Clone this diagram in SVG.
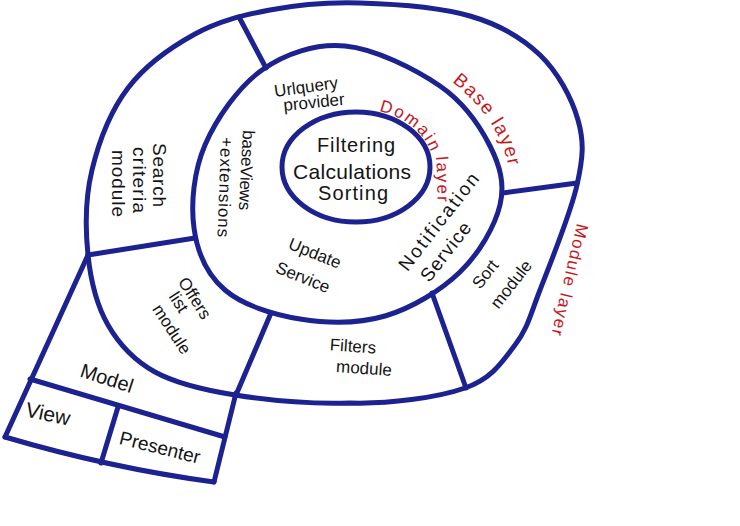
<svg xmlns="http://www.w3.org/2000/svg" width="740" height="526" viewBox="0 0 740 526">
<style>
.ln{fill:none;stroke:#1c2290;stroke-width:5;stroke-linecap:round;stroke-linejoin:round}
text{font-family:"Liberation Sans","DejaVu Sans",sans-serif;fill:#141414}
.r{fill:#c8161d}
</style>
<defs>
<path id="pDomain" d="M379,111 C398,115 416,126 426,142 C429,147 431,151 432,155"/>
<path id="pLayer" d="M436,157 C437,172 438,190 437,215"/>
<path id="pBase" d="M452,82 C472,97 490,118 500,140 C506,153 509,165 511,185"/>
</defs>
<rect width="740" height="526" fill="#ffffff"/>

<g id="rings">
<path class="ln" d="M360,3 C393.3,4 440,7.3 470,16 C500,24.7 522,37.7 540,55 C558,72.3 571.8,98.3 578,120 C584.2,141.7 583.3,156.7 577,185 C570.7,213.3 550.3,263.3 540,290 C529.7,316.7 527.5,328.7 515,345 C502.5,361.3 492.5,378.3 465,388 C437.5,397.7 388.3,404.2 350,403 C311.7,404.2 267.5,400.2 235,395 C202.5,389.8 176.2,383.7 155,372 C133.8,360.3 119.2,344.5 108,325 C96.8,305.5 90.7,280.8 88,255 C85.3,229.2 85.3,197.8 92,170 C98.7,142.2 110.8,110.7 128,88 C145.2,65.3 171.3,47 195,34 C218.7,21 242.5,15.2 270,10 C297.5,4.8 326.7,2 360,3 Z"/>
<path class="ln" d="M345,46 C374.7,48.7 415.8,69.3 440,86 C464.2,102.7 480,126.2 490,146 C500,165.8 505,184 500,205 C495,226 479.2,253.5 460,272 C440.8,290.5 411.7,308.2 385,316 C358.3,323.8 326.7,323.3 300,319 C273.3,314.7 242.7,305.2 225,290 C207.3,275 197.3,252.2 194,228 C190.7,203.8 193.7,171.3 205,145 C216.3,118.7 238.7,86.5 262,70 C285.3,53.5 315.3,43.3 345,46 Z"/>
<ellipse class="ln" cx="356" cy="167" rx="74" ry="55"/>
</g>

<g id="connectors">
<path class="ln" d="M239,17 L266,68"/>
<path class="ln" d="M503,193 L577,183"/>
<path class="ln" d="M432,293 L466,388"/>
<path class="ln" d="M271,313 L236,395"/>
<path class="ln" d="M88,255 L195,238"/>
<path class="ln" d="M88,255 L5,437"/>
<path class="ln" d="M30,379 L225,437"/>
<path class="ln" d="M5,437 Q110,468 214,482"/>
<path class="ln" d="M236,393 L214,482"/>
<path class="ln" d="M118,407 L101,463"/>
</g>

<g id="core">
<text x="356" y="152" font-size="20" text-anchor="middle" textLength="78">Filtering</text>
<text x="352" y="179" font-size="21" text-anchor="middle" textLength="118">Calculations</text>
<text x="353" y="200" font-size="20" text-anchor="middle" textLength="70">Sorting</text>
</g>

<g id="domain-layer">
<text class="r" font-size="17" letter-spacing="2"><textPath href="#pDomain">Domain</textPath></text>
<text class="r" font-size="17" letter-spacing="2"><textPath href="#pLayer">layer</textPath></text>
</g>

<g id="base-layer">
<text class="r" font-size="19" letter-spacing="1.5"><textPath href="#pBase">Base layer</textPath></text>
</g>

<g id="module-layer">
<text class="r" font-size="17" letter-spacing="1.5" transform="translate(577,223) rotate(103)">Module layer</text>
</g>

<g id="urlquery-provider">
<text font-size="17" transform="translate(275,97) rotate(-8)">Urlquery</text>
<text font-size="17" transform="translate(284,111) rotate(-6)">provider</text>
</g>

<g id="baseviews">
<text font-size="17" textLength="80" transform="translate(243,130) rotate(93)">baseViews</text>
<text font-size="17" textLength="100" transform="translate(221,137) rotate(92)">+extensions</text>
</g>

<g id="update-service">
<text font-size="17" text-anchor="middle" y="6" transform="translate(315,253) rotate(22)">Update</text>
<text font-size="17" text-anchor="middle" y="6" transform="translate(303,277) rotate(22)">Service</text>
</g>

<g id="notification-service">
<text font-size="19" text-anchor="middle" y="6" textLength="118" transform="translate(439,222) rotate(-52)">Notification</text>
<text font-size="19" text-anchor="middle" y="6" textLength="70" transform="translate(446,252) rotate(-52)">Service</text>
</g>

<g id="search-criteria-module">
<text font-size="19" textLength="64" transform="translate(153,143) rotate(90)">Search</text>
<text font-size="19" textLength="66" transform="translate(133,147) rotate(90)">criteria</text>
<text font-size="19" textLength="67" transform="translate(112,150) rotate(90)">module</text>
</g>

<g id="offers-list-module">
<text font-size="17" text-anchor="middle" y="6" transform="translate(195,298) rotate(57)">Offers</text>
<text font-size="17" text-anchor="middle" y="6" transform="translate(179,302) rotate(57)">list</text>
<text font-size="17" text-anchor="middle" y="6" transform="translate(172,329) rotate(57)">module</text>
</g>

<g id="sort-module">
<text font-size="17" text-anchor="middle" y="6" transform="translate(485,274) rotate(-52)">Sort</text>
<text font-size="17" text-anchor="middle" y="6" transform="translate(511,284) rotate(-52)">module</text>
</g>

<g id="filters-module">
<text font-size="17" text-anchor="middle" y="6" transform="translate(353,346) rotate(4)">Filters</text>
<text font-size="17" text-anchor="middle" y="6" transform="translate(364,368) rotate(4)">module</text>
</g>

<g id="model">
<text font-size="20" text-anchor="middle" y="7" transform="translate(107,378) rotate(18)">Model</text>
</g>
<g id="view">
<text font-size="21" text-anchor="middle" y="7" transform="translate(48,414) rotate(12)">View</text>
</g>
<g id="presenter">
<text font-size="19" text-anchor="middle" y="7" transform="translate(160,447) rotate(14)">Presenter</text>
</g>
</svg>
